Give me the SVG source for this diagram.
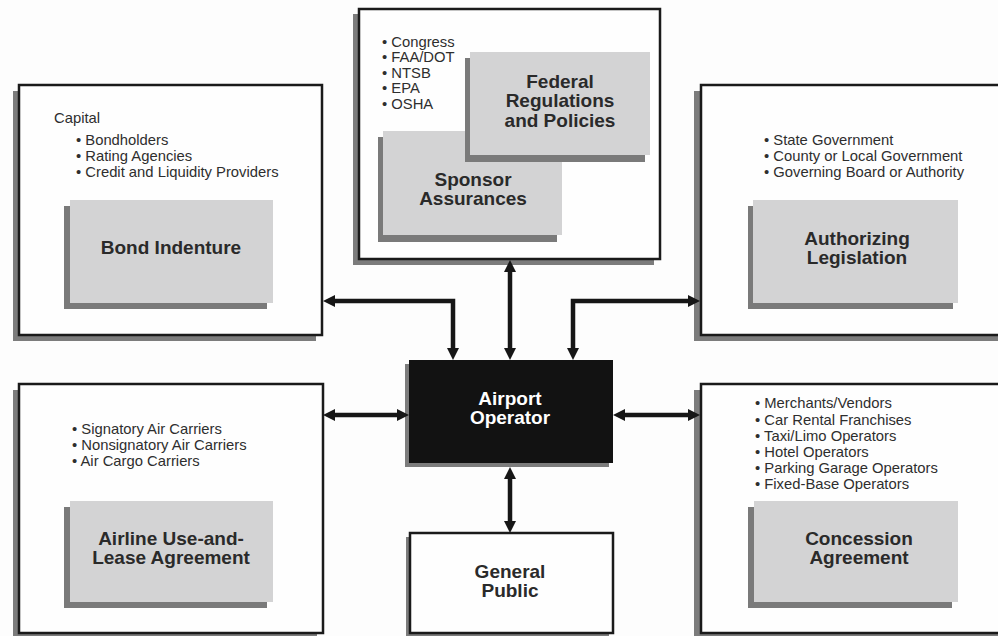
<svg xmlns="http://www.w3.org/2000/svg" width="998" height="636" viewBox="0 0 998 636">
<defs>
<style>
.bg{fill:#fdfdfd}
.box{fill:#fefefe;stroke:#1a1a1a;stroke-width:2.5}
.sh{fill:#7c7c7c}
.gray{fill:#d3d3d4}
.gsh{fill:#7a7a7a}
.dark{fill:#121212}
.bul{font-family:"Liberation Sans",Arial,sans-serif;font-size:14.8px;fill:#2e2e2e}
.lab{font-family:"Liberation Sans",Arial,sans-serif;font-size:19px;font-weight:bold;fill:#2a2a2a;text-anchor:middle}
.wlab{font-family:"Liberation Sans",Arial,sans-serif;font-size:19px;font-weight:bold;fill:#ffffff;text-anchor:middle}
.con{fill:none;stroke:#161616;stroke-width:4.5}
</style>
<marker id="ah" markerUnits="userSpaceOnUse" markerWidth="14" markerHeight="14" refX="0" refY="6" orient="auto-start-reverse" viewBox="0 0 14 12">
<path d="M0,0 L12,6 L0,12 z" fill="#161616"/>
</marker>
</defs>
<rect class="bg" x="0" y="0" width="998" height="636"/>

<g id="bond">
<rect class="sh" x="13" y="91" width="303" height="250"/>
<rect class="box" x="19" y="85" width="303" height="250"/>
<text class="bul" x="54" y="123">Capital</text>
<text class="bul" x="76" y="145">• Bondholders</text>
<text class="bul" x="76" y="161">• Rating Agencies</text>
<text class="bul" x="76" y="177">• Credit and Liquidity Providers</text>
<rect class="gsh" x="64" y="206" width="203" height="103"/>
<rect class="gray" x="70" y="200" width="203" height="103"/>
<text class="lab" x="171" y="254">Bond Indenture</text>
</g>

<g id="federal">
<rect class="sh" x="353" y="14" width="301" height="251"/>
<rect class="box" x="359" y="9" width="301" height="250"/>
<text class="bul" x="382" y="47">• Congress</text>
<text class="bul" x="382" y="62">• FAA/DOT</text>
<text class="bul" x="382" y="78">• NTSB</text>
<text class="bul" x="382" y="93">• EPA</text>
<text class="bul" x="382" y="109">• OSHA</text>
<rect class="gsh" x="378" y="137" width="179" height="105"/>
<rect class="gray" x="383" y="131" width="179" height="104"/>
<text class="lab" x="473" y="186">Sponsor</text>
<text class="lab" x="473" y="205">Assurances</text>
<rect class="gsh" x="465" y="58" width="180" height="104"/>
<rect class="gray" x="470" y="52" width="180" height="103"/>
<text class="lab" x="560" y="88">Federal</text>
<text class="lab" x="560" y="107">Regulations</text>
<text class="lab" x="560" y="127">and Policies</text>
</g>

<g id="authorizing">
<rect class="sh" x="694" y="91" width="310" height="250"/>
<rect class="box" x="701" y="85" width="310" height="250"/>
<text class="bul" x="764" y="145">• State Government</text>
<text class="bul" x="764" y="161">• County or Local Government</text>
<text class="bul" x="764" y="177">• Governing Board or Authority</text>
<rect class="gsh" x="748" y="206" width="205" height="103"/>
<rect class="gray" x="753" y="200" width="205" height="103"/>
<text class="lab" x="857" y="245">Authorizing</text>
<text class="lab" x="857" y="264">Legislation</text>
</g>

<g id="airline">
<rect class="sh" x="13" y="390" width="304" height="250"/>
<rect class="box" x="19" y="384" width="304" height="249"/>
<text class="bul" x="72" y="434">• Signatory Air Carriers</text>
<text class="bul" x="72" y="450">• Nonsignatory Air Carriers</text>
<text class="bul" x="72" y="466">• Air Cargo Carriers</text>
<rect class="gsh" x="64" y="507" width="203" height="101"/>
<rect class="gray" x="70" y="501" width="203" height="101"/>
<text class="lab" x="171" y="545">Airline Use-and-</text>
<text class="lab" x="171" y="564">Lease Agreement</text>
</g>

<g id="concession">
<rect class="sh" x="694" y="390" width="310" height="250"/>
<rect class="box" x="701" y="384" width="310" height="249"/>
<text class="bul" x="755" y="408">• Merchants/Vendors</text>
<text class="bul" x="755" y="425">• Car Rental Franchises</text>
<text class="bul" x="755" y="441">• Taxi/Limo Operators</text>
<text class="bul" x="755" y="457">• Hotel Operators</text>
<text class="bul" x="755" y="473">• Parking Garage Operators</text>
<text class="bul" x="755" y="489">• Fixed-Base Operators</text>
<rect class="gsh" x="748" y="507" width="204" height="101"/>
<rect class="gray" x="754" y="501" width="204" height="101"/>
<text class="lab" x="859" y="545">Concession</text>
<text class="lab" x="859" y="564">Agreement</text>
</g>

<g id="operator">
<rect class="sh" x="405" y="364" width="204" height="103"/>
<rect class="dark" x="409" y="360" width="204" height="103"/>
<text class="wlab" x="510" y="405">Airport</text>
<text class="wlab" x="510" y="424">Operator</text>
</g>

<g id="public">
<rect class="sh" x="406" y="537" width="203" height="102"/>
<rect class="box" x="410" y="533" width="203" height="100"/>
<text class="lab" x="510" y="578">General</text>
<text class="lab" x="510" y="597">Public</text>
</g>

<g id="connectors">
<path class="con" d="M510,272 L510,348" marker-start="url(#ah)" marker-end="url(#ah)"/>
<path class="con" d="M335,301 L453,301 L453,348" marker-start="url(#ah)" marker-end="url(#ah)"/>
<path class="con" d="M573,348 L573,301 L688,301" marker-start="url(#ah)" marker-end="url(#ah)"/>
<path class="con" d="M335,415 L397,415" marker-start="url(#ah)" marker-end="url(#ah)"/>
<path class="con" d="M625,415 L688,415" marker-start="url(#ah)" marker-end="url(#ah)"/>
<path class="con" d="M510,479 L510,521" marker-start="url(#ah)" marker-end="url(#ah)"/>
</g>
</svg>
